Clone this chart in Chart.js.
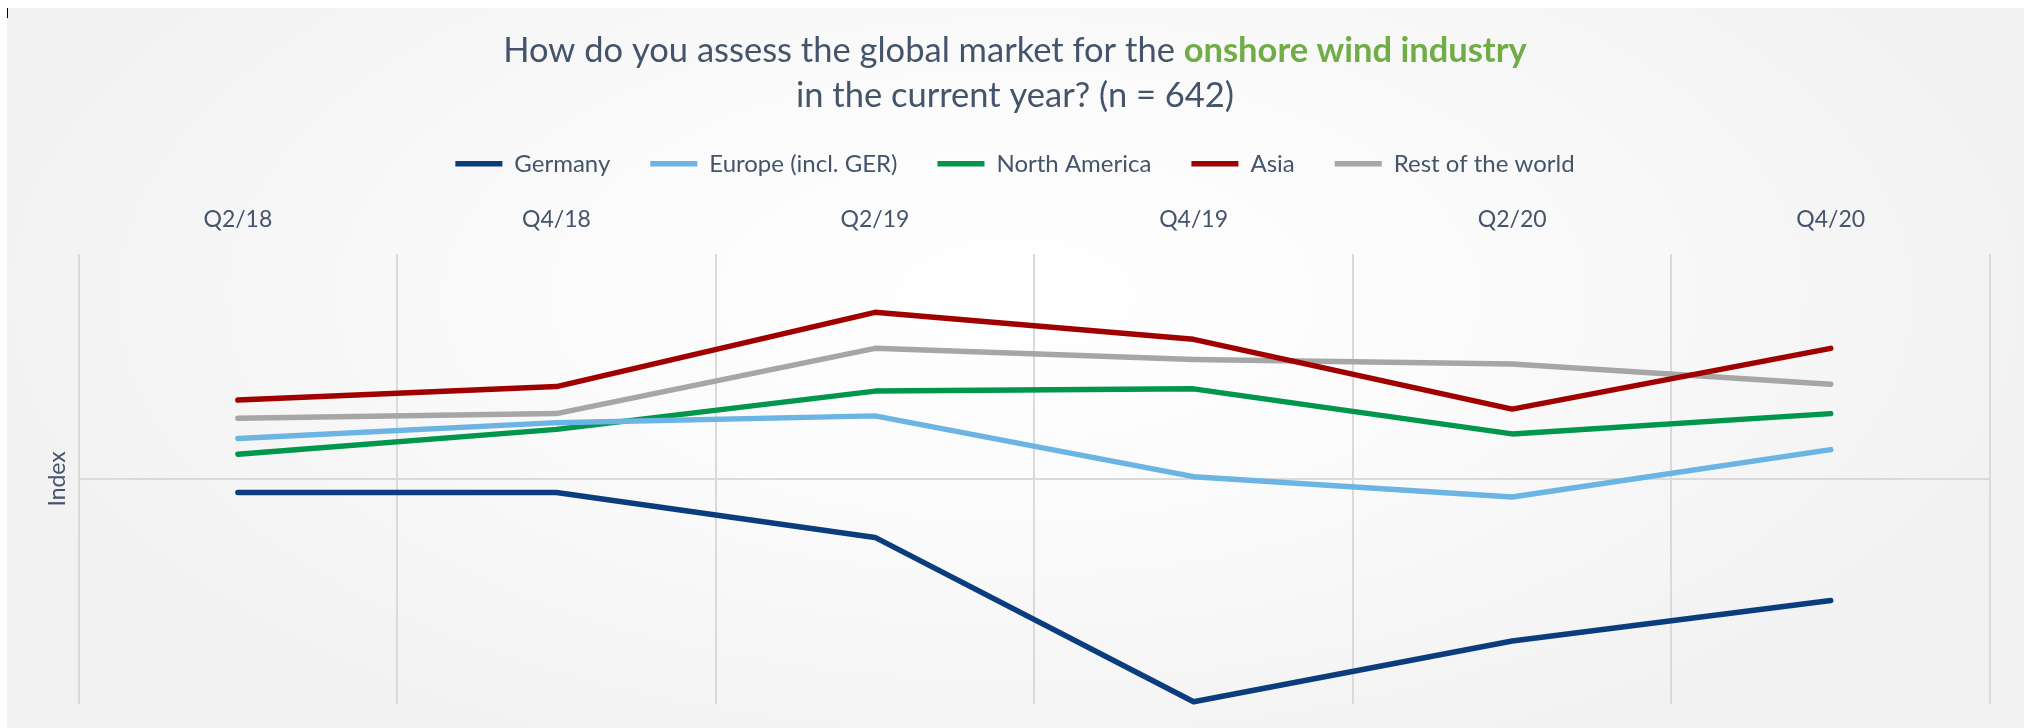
<!DOCTYPE html>
<html>
<head>
<meta charset="utf-8">
<script src="https://cdn.jsdelivr.net/npm/chart.js@4/dist/chart.umd.min.js"></script>
<style>
	body {
		margin: 0;
		background: #ffffff;
	}
	div.frame {
		position: absolute;
		left: 7px;
		top: 8px;
		width: 2017px;
		height: 720px;
		background: radial-gradient(ellipse 55% 75% at 50% 40%, #ffffff 0%, #fbfbfb 40%, #f1f1f1 100%);
	}
	div.mark {
		position: absolute;
		left: 7px;
		top: 8px;
		width: 1px;
		height: 10px;
		background: #000000;
	}
	canvas#marketChart {
		position: absolute;
		left: 0;
		top: 0;
	}
</style>
</head>
<body>
<div class="frame"></div>
<div class="mark"></div>
<canvas id="marketChart" width="2024" height="728"></canvas>
<script type="text/javascript">
	// quarters on the top axis
	var quarters = ['Q2/18', 'Q4/18', 'Q2/19', 'Q4/19', 'Q2/20', 'Q4/20'];

	// index values (zero = middle line)
	var germany = [-6, -6, -26, -99, -72, -54];
	var europe = [18, 25, 28, 1, -8, 13];
	var northAmerica = [11, 22, 39, 40, 20, 29];
	var asia = [35, 41, 74, 62, 31, 58];
	var restOfWorld = [27, 29, 58, 53, 51, 42];

	var seriesNames = ['Germany', 'Europe (incl. GER)', 'North America', 'Asia', 'Rest of the world'];
	var seriesColors = ['#0b3d7e', '#6cb4e4', '#00964b', '#a00000', '#a6a6a6'];

	var titleLine1 = ['How do you assess the global market for the ', 'onshore wind industry'];
	var titleLine2 = ['in the current year? (n = 642)'];

	var textColor = '#44546a';
	var accentColor = '#70ad47';
	var gridColor = '#dadada';

	Chart.defaults.font.family = 'Lato';

	// the title needs two colours in one line, so the normal title only keeps the space
	var richTitle = {
		id: 'richTitle',
		afterDraw: function(chart) {
			var block = chart.titleBlock;
			var opts = chart.options.plugins.title;
			var ctx = chart.ctx;
			var size = opts.font.size;
			var lineHeight = size * opts.font.lineHeight;
			var centerX = (block.left + block.right) / 2;
			var lines = [
				[{ text: titleLine1[0], color: textColor, weight: 'normal' },
				 { text: titleLine1[1], color: accentColor, weight: 'bold' }],
				[{ text: titleLine2[0], color: textColor, weight: 'normal' }]
			];
			ctx.save();
			ctx.textBaseline = 'middle';
			ctx.textAlign = 'left';
			for (var i = 0; i < lines.length; i++) {
				var parts = lines[i];
				var total = 0;
				for (var j = 0; j < parts.length; j++) {
					ctx.font = parts[j].weight + ' ' + size + 'px Lato';
					parts[j].width = ctx.measureText(parts[j].text).width;
					total += parts[j].width;
				}
				var x = centerX - total / 2;
				var y = block.top + opts.padding.top + lineHeight / 2 + i * lineHeight;
				for (var k = 0; k < parts.length; k++) {
					ctx.font = parts[k].weight + ' ' + size + 'px Lato';
					ctx.fillStyle = parts[k].color;
					ctx.fillText(parts[k].text, x, y);
					x += parts[k].width;
				}
			}
			ctx.restore();
		}
	};

	var allValues = [germany, europe, northAmerica, asia, restOfWorld];
	var datasets = [];
	for (var i = 0; i < seriesNames.length; i++) {
		datasets.push({
			label: seriesNames[i],
			data: allValues[i],
			borderColor: seriesColors[i],
			backgroundColor: seriesColors[i],
			borderWidth: 5.5,
			borderCapStyle: 'round',
			borderJoinStyle: 'round',
			pointRadius: 0,
			pointHoverRadius: 0,
			tension: 0,
			fill: false,
			clip: false
		});
	}

	var chart = new Chart(document.getElementById('marketChart'), {
		type: 'line',
		data: {
			labels: quarters,
			datasets: datasets
		},
		plugins: [richTitle],
		options: {
			responsive: false,
			animation: false,
			layout: {
				padding: { top: 8, left: 40, right: 34, bottom: 24 }
			},
			plugins: {
				title: {
					display: true,
					text: [titleLine1.join(''), titleLine2[0]],
					color: 'transparent',
					font: { size: 34.5, lineHeight: 1.316 },
					padding: { top: 20, bottom: -7 }
				},
				legend: {
					display: true,
					position: 'top',
					labels: {
						usePointStyle: true,
						pointStyle: 'line',
						pointStyleWidth: 47,
						padding: 40,
						color: textColor,
						font: { size: 24 }
					}
				},
				tooltip: { enabled: false }
			},
			scales: {
				x: {
					position: 'top',
					offset: true,
					grid: {
						offset: true,
						color: gridColor,
						lineWidth: 2,
						drawTicks: false
					},
					border: { display: false },
					ticks: {
						color: textColor,
						padding: 0,
						font: { size: 23, lineHeight: '68px' }
					}
				},
				y: {
					min: -100,
					max: 100,
					grid: {
						drawTicks: false,
						lineWidth: 2,
						color: function(c) {
							return c.tick && c.tick.value === 0 ? gridColor : 'transparent';
						}
					},
					border: { display: false },
					ticks: {
						display: false,
						stepSize: 100
					},
					title: {
						display: true,
						text: 'Index',
						color: textColor,
						font: { size: 23 },
						padding: { top: 4, bottom: 7 }
					}
				}
			}
		}
	});
</script>
</body>
</html>
